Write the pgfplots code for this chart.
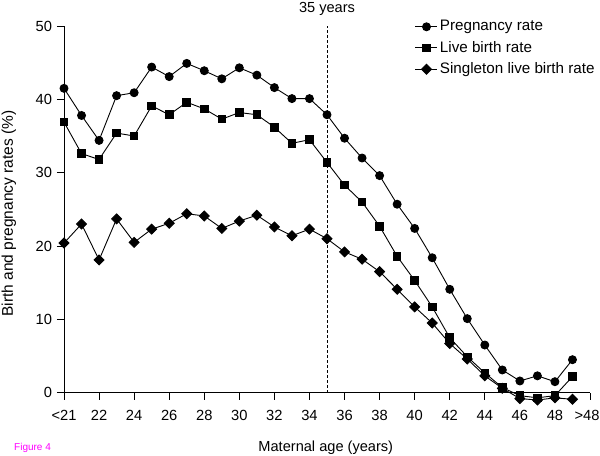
\documentclass[border=0pt]{standalone}
\usepackage{fontspec}
\setmainfont{Liberation Sans}
\usepackage{pgfplots}
\pgfplotsset{compat=1.18}
\definecolor{figmag}{RGB}{255,0,255}
\begin{document}
\fontsize{14.4bp}{17bp}\selectfont
\begin{tikzpicture}
\path[use as bounding box] (0,0) rectangle (600bp,456bp);
\begin{axis}[
  at={(64bp,63.3bp)}, anchor=south west,
  scale only axis, width=526bp, height=366.7bp,
  xmin=20, xmax=50, ymin=0, ymax=50,
  axis x line*=bottom, axis y line*=left,
  axis line style={-, line width=0.9bp},
  xtick={20,22,...,50},
  xticklabels={{<21},22,24,26,28,30,32,34,36,38,40,42,44,46,48,{\kern-6bp>48}},
  ytick={0,10,20,30,40,50},
  tick align=outside, major tick length=7bp,
  tick style={black, line width=0.9bp},
  /pgf/number format/assume math mode=true,
  tick label style={font=\fontsize{14.7bp}{17bp}\selectfont},
  xticklabel style={yshift=-6bp},
  clip=false,
  every axis x label/.style={at={(axis description cs:0.4977,-0.1508)}, anchor=center},
  every axis y label/.style={at={(axis description cs:-0.1046,0.4887)}, anchor=center, rotate=90},
  xlabel={Maternal age (years)},
  ylabel={Birth and pregnancy rates (\%)},
  xlabel style={font=\fontsize{14.6bp}{17bp}\selectfont},
  ylabel style={font=\fontsize{15.5bp}{17bp}\selectfont},
  legend style={at={(axis description cs:0.667,1.021)}, anchor=north west, draw=none, fill=none,
     inner sep=0pt, font=\fontsize{15.2bp}{17bp}\selectfont, row sep=4.2bp},
  legend cell align=left,
  legend image code/.code={\draw[mark repeat=2,mark phase=2,#1] plot coordinates {(0bp,0bp) (11bp,0bp) (22bp,0bp)};},
  every axis plot/.append style={black, line width=0.9bp},
]
\addplot[mark=*, mark size=4bp] coordinates {
(20,41.5) (21,37.8) (22,34.4) (23,40.5) (24,40.9) (25,44.4) (26,43.1) (27,44.9) (28,43.9) (29,42.8)
(30,44.3) (31,43.3) (32,41.6) (33,40.1) (34,40.1) (35,37.9) (36,34.7) (37,32.0) (38,29.6) (39,25.7)
(40,22.4) (41,18.4) (42,14.1) (43,10.1) (44,6.5) (45,3.1) (46,1.6) (47,2.3) (48,1.5) (49,4.5)};
\addlegendentry{Pregnancy rate}
\addplot[mark=square*, mark size=3.8bp] coordinates {
(20,36.9) (21,32.6) (22,31.8) (23,35.4) (24,35.0) (25,39.1) (26,37.9) (27,39.6) (28,38.7) (29,37.3)
(30,38.2) (31,37.9) (32,36.2) (33,34.0) (34,34.5) (35,31.4) (36,28.3) (37,26.0) (38,22.7) (39,18.6)
(40,15.3) (41,11.7) (42,7.5) (43,4.9) (44,2.7) (45,0.7) (46,-0.4) (47,-0.7) (48,-0.4) (49,2.2)};
\addlegendentry{Live birth rate}
\addplot[mark=square*, mark size=3.5bp, mark options={rotate=45}] coordinates {
(20,20.4) (21,23.0) (22,18.1) (23,23.7) (24,20.5) (25,22.3) (26,23.1) (27,24.4) (28,24.1) (29,22.4)
(30,23.4) (31,24.2) (32,22.6) (33,21.4) (34,22.3) (35,21.0) (36,19.2) (37,18.2) (38,16.5) (39,14.1)
(40,11.7) (41,9.5) (42,6.7) (43,4.6) (44,2.3) (45,0.6) (46,-0.8) (47,-1.0) (48,-0.7) (49,-0.9)};
\addlegendentry{Singleton live birth rate}
\addplot[dashed, dash pattern=on 3bp off 2bp, line width=0.8bp, forget plot] coordinates {(35,0) (35,50)};
\node[anchor=center, font=\fontsize{14.6bp}{17bp}\selectfont] at (axis cs:35,50) [yshift=17.5bp] {35 years};
\end{axis}
\node[anchor=west, text=figmag, font=\fontsize{10bp}{12bp}\selectfont, inner sep=0pt] at (14bp,8bp) {Figure 4};
\end{tikzpicture}
\end{document}
